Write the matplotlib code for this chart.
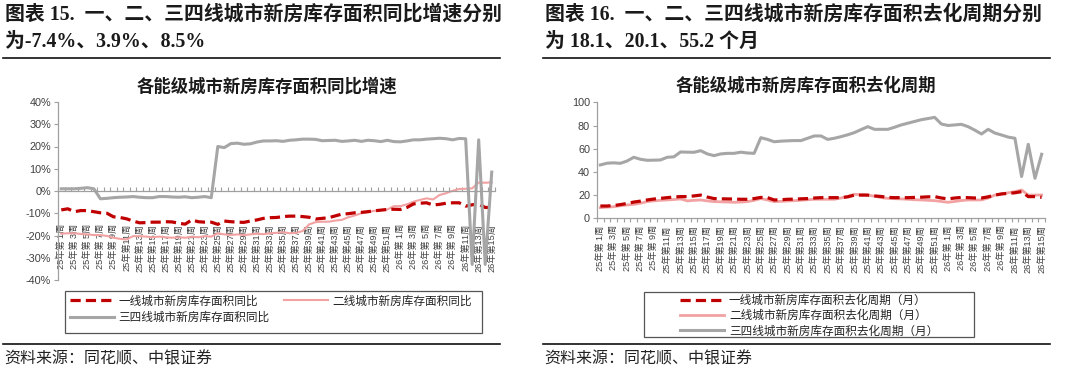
import matplotlib
matplotlib.use("Agg")
import matplotlib.pyplot as plt
from matplotlib.patches import Rectangle
from matplotlib.lines import Line2D
import numpy as np

W, H = 1080, 374
CJK = "Noto Sans CJK SC"
SANS = ["Liberation Sans", CJK]
SERIF = ["Liberation Serif", CJK]
plt.rcParams['font.family'] = SANS

# ---------------- data ----------------
weeks_25 = list(range(1, 53))
weeks_26 = list(range(1, 16))
categories = [f"25年第{w:>2}周" for w in weeks_25] + [f"26年第{w:>2}周" for w in weeks_26]

# 同比增速 (%)
yoy_tier1 = [-8.5, -8.0, -9.3, -8.8, -8.8, -9.3, -9.8, -10.0, -11.6, -11.9,
             -12.5, -13.5, -14.3, -14.2, -14.0, -14.0, -13.8, -13.9, -14.5, -14.9,
             -13.0, -13.8, -14.0, -14.0, -15.0, -13.5, -13.8, -14.0, -14.1, -13.5,
             -13.0, -12.3, -12.0, -11.9, -11.5, -11.3, -11.3, -11.5, -11.8, -12.6,
             -12.3, -12.0, -11.2, -10.4, -10.2, -9.8, -9.6, -9.3, -8.9, -8.6,
             -8.3, -8.2, -8.3, -7.4, -5.8, -5.5, -5.3, -6.3, -6.0, -5.5,
             -5.3, -5.3, -6.8, -6.2, -5.9, -7.4, -7.4]
yoy_tier2 = [-19.2, -19.0, -19.0, -19.3, -19.5, -19.8, -19.8, -20.2, -21.0, -21.5,
             -21.8, -20.3, -20.3, -20.5, -20.8, -20.5, -20.8, -21.0, -20.8, -21.0,
             -20.5, -20.8, -20.3, -20.5, -19.0, -19.5, -19.8, -19.5, -19.8, -19.5,
             -19.2, -19.4, -19.0, -18.8, -18.5, -19.0, -18.8, -18.0, -15.0, -14.0,
             -13.8, -13.8, -13.3, -13.0, -11.8, -11.0, -10.0, -9.5, -8.9, -8.6,
             -8.3, -6.8, -6.8, -6.0, -4.8, -4.0, -3.3, -3.8, -1.8, -1.0,
             0.1, 0.9, 1.0, 1.2, 3.8, 3.7, 3.9]
yoy_tier34 = [1.0, 1.0, 1.0, 1.2, 1.5, 1.0, -3.5, -3.3, -3.0, -2.8,
              -2.7, -2.5, -2.8, -3.0, -3.0, -2.5, -2.5, -2.7, -2.8, -2.6,
              -3.0, -2.8, -2.5, -3.0, 20.0, 19.5, 21.3, 21.5, 21.0, 21.2,
              22.0, 22.5, 22.5, 22.6, 22.3, 22.8, 23.0, 23.3, 23.3, 23.2,
              22.6, 22.7, 22.8, 22.3, 22.5, 22.8, 22.3, 22.8, 22.6, 22.2,
              22.8, 22.2, 22.1, 22.5, 23.0, 23.0, 23.3, 23.5, 23.7, 23.5,
              23.0, 23.6, 23.5, -33.0, 23.0, -33.0, 8.5]

# 去化周期 (月)
cyc_tier1 = [10.6, 10.6, 11.0, 11.8, 12.8, 14.0, 14.8, 15.8, 16.6, 17.2,
             17.8, 18.4, 18.7, 18.7, 19.3, 20.0, 18.3, 17.0, 16.8, 16.7,
             16.6, 16.4, 16.4, 17.0, 18.0, 17.8, 15.8, 16.0, 16.4, 16.5,
             16.8, 17.0, 17.5, 17.8, 17.8, 17.8, 17.8, 18.5, 20.0, 20.0,
             20.0, 19.3, 18.8, 18.0, 17.8, 17.8, 17.8, 18.0, 18.2, 18.5,
             18.7, 17.5, 16.7, 17.5, 18.0, 17.8, 17.5, 17.5, 18.5, 20.0,
             21.0, 21.5, 22.0, 23.0, 18.7, 18.7, 18.1]
cyc_tier2 = [9.2, 9.6, 10.0, 10.8, 11.5, 12.0, 13.0, 14.4, 15.0, 15.5,
             15.8, 16.2, 16.7, 15.0, 15.5, 15.8, 15.0, 14.4, 14.2, 14.0,
             13.8, 14.0, 14.4, 15.5, 17.0, 15.8, 14.4, 14.6, 14.9, 15.2,
             15.6, 16.0, 16.4, 16.4, 16.4, 16.4, 17.5, 19.0, 20.7, 20.3,
             20.0, 19.0, 17.8, 17.2, 16.9, 16.7, 16.4, 16.0, 15.8, 15.5,
             15.2, 14.5, 13.8, 14.5, 15.3, 15.8, 15.8, 15.8, 17.5, 20.0,
             21.0, 22.0, 23.0, 24.4, 20.0, 20.0, 20.1]
cyc_tier34 = [46.0, 47.5, 47.8, 47.4, 49.4, 52.6, 50.9, 50.0, 50.1, 50.3,
              52.6, 53.0, 57.2, 57.0, 56.9, 58.3, 55.5, 54.0, 55.5, 56.0,
              56.0, 57.0, 56.3, 56.0, 69.5, 68.0, 66.0, 66.5, 66.8, 67.0,
              67.0, 69.0, 71.0, 71.0, 68.0, 69.0, 70.4, 72.0, 73.9, 76.5,
              79.0, 76.7, 76.7, 76.7, 78.5, 80.5, 82.0, 83.5, 85.0, 86.0,
              87.0, 81.3, 80.0, 80.5, 81.0, 79.0, 76.0, 72.7, 76.7, 73.5,
              71.8, 70.0, 69.0, 36.0, 63.8, 34.5, 55.2]

# ---------------- styles ----------------
RED = "#C00000"
PINK = "#F2A2A2"
GRAY = "#A6A6A6"
AXC = "#A0A0A0"
TXT = "#404040"

fig = plt.figure(figsize=(W / 100, H / 100), dpi=100)
fig.patch.set_facecolor("white")


def fx(px):
    return px / W


def fy(py):
    return 1 - py / H


x = np.arange(len(categories))
tick_pos = x[::2]
tick_lab = categories[::2]


def style_axes(ax, pad_px, minor_dir):
    ax.set_xlim(-0.5, len(categories) - 0.5)
    for s in ["top", "right"]:
        ax.spines[s].set_visible(False)
    ax.spines["left"].set_color(AXC)
    ax.spines["bottom"].set_color(AXC)
    ax.spines["left"].set_linewidth(0.9)
    ax.spines["bottom"].set_linewidth(0.9)
    ax.set_xticks(tick_pos)
    ax.set_xticklabels(tick_lab, rotation=90, va="top", ha="center",
                       fontsize=6.6, color=TXT, family=SANS)
    ax.set_xticks(np.arange(-0.5, len(categories), 1), minor=True)
    ax.tick_params(axis="x", which="major", length=0, pad=pad_px * 0.72)
    ax.tick_params(axis="x", which="minor", length=3, direction=minor_dir,
                   color=AXC, width=0.8)
    ax.tick_params(axis="y", which="major", length=3, color=AXC, width=0.8,
                   labelsize=7.8, labelcolor=TXT, pad=2)
    ax.set_facecolor("none")


# ---------------- left chart ----------------
ax1 = fig.add_axes([fx(58), fy(280), fx(437), 178 / H])
ax1.set_ylim(-40, 40)
ax1.set_yticks(np.arange(-40, 41, 10))
ax1.set_yticklabels([f"{v}%" for v in range(-40, 41, 10)])
ax1.spines["bottom"].set_position(("data", 0))
style_axes(ax1, 33, "in")
l2, = ax1.plot(x, yoy_tier2, color=PINK, lw=1.5, solid_joinstyle="round")
l1, = ax1.plot(x, yoy_tier1, color=RED, lw=2.3, dashes=(3.2, 1.6))
l3, = ax1.plot(x, yoy_tier34, color=GRAY, lw=2.2, solid_joinstyle="round")

# ---------------- right chart ----------------
ax2 = fig.add_axes([fx(597), fy(218.3), fx(448), 116 / H])
ax2.set_ylim(0, 100)
ax2.set_yticks(np.arange(0, 101, 20))
style_axes(ax2, 7, "out")
r2, = ax2.plot(x, cyc_tier2, color=PINK, lw=2.0, solid_joinstyle="round")
r1, = ax2.plot(x, cyc_tier1, color=RED, lw=2.3, dashes=(3.2, 1.6))
r3, = ax2.plot(x, cyc_tier34, color=GRAY, lw=2.2, solid_joinstyle="round")

# ---------------- titles ----------------
title_kw = dict(fontsize=14.3, fontweight="bold", color="#1a1a1a",
                family=SERIF, va="center", ha="left")
fig.text(fx(5), fy(15), "图表 15.  一、二、三四线城市新房库存面积同比增速分别", **title_kw)
fig.text(fx(5), fy(42), "为-7.4%、3.9%、8.5%", **title_kw)
fig.text(fx(545), fy(15), "图表 16.  一、二、三四线城市新房库存面积去化周期分别", **title_kw)
fig.text(fx(545), fy(42), "为 18.1、20.1、55.2 个月", **title_kw)

for x0, x1 in [(3, 500), (543, 1050)]:
    fig.add_artist(Line2D([fx(x0), fx(x1)], [fy(57.5), fy(57.5)],
                          color="#111111", lw=1.2))
    fig.add_artist(Line2D([fx(x0), fx(x1)], [fy(344), fy(344)],
                          color="#111111", lw=1.2))

ct_kw = dict(fontsize=12.5, fontweight="bold", color="#1a1a1a",
             family=SERIF, va="center", ha="center")
fig.text(fx(267), fy(87), "各能级城市新房库存面积同比增速", **ct_kw)
fig.text(fx(806), fy(86), "各能级城市新房库存面积去化周期", **ct_kw)

src_kw = dict(fontsize=11.5, color="#222222", family=SERIF, va="center",
              ha="left", style="italic")
fig.text(fx(4), fy(359), "资料来源：同花顺、中银证券", **src_kw)
fig.text(fx(544), fy(359), "资料来源：同花顺、中银证券", **src_kw)

# ---------------- legends ----------------
fig.add_artist(Rectangle((fx(65), fy(333)), fx(417), (333 - 291) / H,
                         fill=False, edgecolor="#555555", lw=0.9))
fig.add_artist(Rectangle((fx(644), fy(337)), fx(330), (337 - 292) / H,
                         fill=False, edgecolor="#555555", lw=0.9))

leg_font = dict(family=SERIF, size=8.4)
leg1 = fig.legend([l1, l3, l2],
                  ["一线城市新房库存面积同比", "三四线城市新房库存面积同比", "二线城市新房库存面积同比"],
                  ncol=2, loc="upper left", bbox_to_anchor=(fx(66), fy(292)),
                  frameon=False, prop=leg_font, handlelength=3.8,
                  handletextpad=0.4, columnspacing=1.2, labelspacing=0.4,
                  borderpad=0.3, borderaxespad=0)
leg2 = fig.legend([r1, r2, r3],
                  ["一线城市新房库存面积去化周期（月）", "二线城市新房库存面积去化周期（月）",
                   "三四线城市新房库存面积去化周期（月）"],
                  ncol=1, loc="upper left", bbox_to_anchor=(fx(677), fy(292)),
                  frameon=False, prop=leg_font, handlelength=3.8,
                  handletextpad=0.4, labelspacing=0.28,
                  borderpad=0.25, borderaxespad=0)
for leg in (leg1, leg2):
    for t in leg.get_texts():
        t.set_color("#222222")

fig.savefig("out.png", dpi=100, facecolor="white")
